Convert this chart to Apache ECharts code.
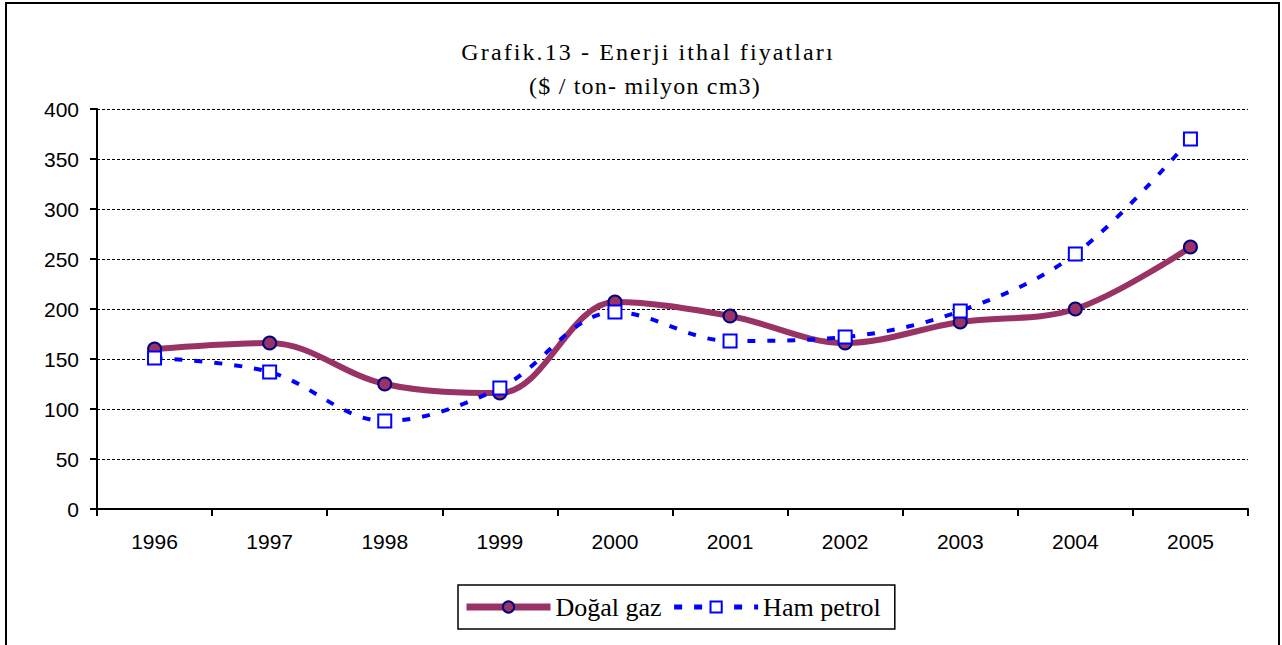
<!DOCTYPE html>
<html>
<head>
<meta charset="utf-8">
<script src="https://cdn.jsdelivr.net/npm/echarts@6/dist/echarts.min.js"></script>
<style>
html,body{margin:0;padding:0;background:#fff;}
#main{width:1282px;height:645px;}
</style>
</head>
<body>
<div id="main"></div>
<script>
// veriler
var years = ['1996','1997','1998','1999','2000','2001','2002','2003','2004','2005'];
var dogalGaz = [160, 166, 125, 116, 207, 193, 166, 187, 200, 262];
var hamPetrol = [151, 137, 88, 121, 197, 168, 172, 198, 255, 370];
var yTicks = [0, 50, 100, 150, 200, 250, 300, 350, 400];
var titleLines = ['Grafik.13 - Enerji ithal fiyatları', '($ / ton- milyon cm3)'];

var myChart = echarts.init(document.getElementById('main'), null, {renderer: 'svg'});
var option = {
	backgroundColor: '#fff',
	animation: false,
	graphic: [{
		type: 'rect',
		shape: {x: 6, y: 3, width: 1273, height: 660},
		style: {fill: 'none', stroke: '#000', lineWidth: 2},
		silent: true
	}, {
		type: 'text',
		x: 648, y: 52,
		style: {text: titleLines[0], align: 'center', verticalAlign: 'middle',
			fontFamily: 'Liberation Serif', fontSize: 24, fill: '#000'}
	}, {
		type: 'text',
		x: 645, y: 86,
		style: {text: titleLines[1], align: 'center', verticalAlign: 'middle',
			fontFamily: 'Liberation Serif', fontSize: 24, fill: '#000'}
	}],
	legend: {
		bottom: 16,
		left: 458,
		itemWidth: 84,
		itemHeight: 14,
		itemGap: 10,
		borderColor: '#000',
		borderWidth: 1.5,
		padding: [9, 14, 9, 5],
		textStyle: {fontFamily: 'Liberation Serif', fontSize: 26, color: '#000'},
		data: [
			{name: 'Doğal gaz', lineStyle: {width: 7}},
			{name: 'Ham petrol', lineStyle: {width: 5}}
		]
	},
	grid: {left: 97, right: 34, top: 109, bottom: 136},
	xAxis: {
		type: 'category',
		data: years,
		boundaryGap: true,
		axisLine: {lineStyle: {color: '#000', width: 2}},
		axisTick: {show: true, length: 7, lineStyle: {color: '#000', width: 2}},
		axisLabel: {fontFamily: 'Liberation Sans', fontSize: 21, color: '#000', margin: 22}
	},
	yAxis: {
		type: 'value',
		min: yTicks[0],
		max: yTicks[yTicks.length - 1],
		interval: 50,
		axisLine: {show: true, lineStyle: {color: '#000', width: 2}},
		axisTick: {show: true, length: 7, lineStyle: {color: '#000', width: 2}},
		axisLabel: {fontFamily: 'Liberation Sans', fontSize: 21, color: '#000', margin: 18},
		splitLine: {lineStyle: {color: '#000', width: 1, type: [3, 2]}}
	},
	series: [{
		name: 'Doğal gaz',
		type: 'line',
		data: dogalGaz,
		smooth: 0.35,
		symbol: 'circle',
		symbolSize: 13,
		z: 2,
		lineStyle: {color: '#993366', width: 6},
		itemStyle: {color: '#993366', borderColor: '#000080', borderWidth: 2}
	}, {
		name: 'Ham petrol',
		type: 'line',
		data: hamPetrol,
		smooth: 0.35,
		symbol: 'rect',
		symbolSize: 13,
		z: 3,
		lineStyle: {color: '#0000ff', width: 4, type: [8, 12]},
		itemStyle: {color: '#fff', borderColor: '#0000ff', borderWidth: 2}
	}]
};
myChart.setOption(option);

// başlıkta harf aralığı
var spacing = {};
spacing[titleLines[0]] = '2.1';
spacing[titleLines[1]] = '1.2';
var texts = document.querySelectorAll('#main text');
for (var i = 0; i < texts.length; i++) {
	if (spacing[texts[i].textContent]) {
		texts[i].setAttribute('letter-spacing', spacing[texts[i].textContent]);
	}
}
</script>
</body>
</html>
